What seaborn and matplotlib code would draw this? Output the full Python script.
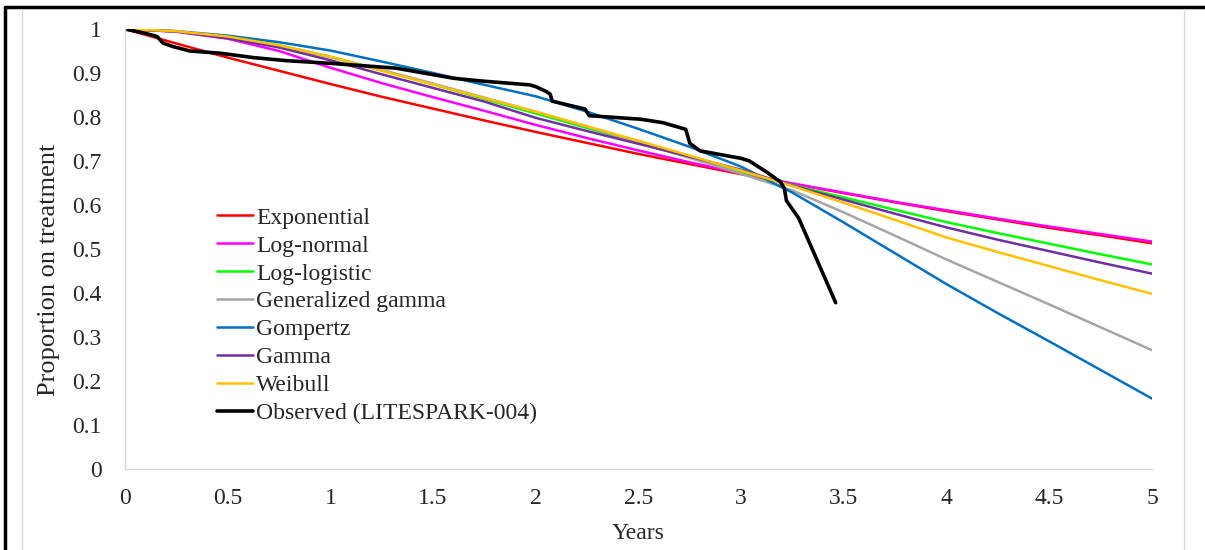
import numpy as np
import pandas as pd
import matplotlib
matplotlib.use('Agg')
import matplotlib.pyplot as plt
from matplotlib.lines import Line2D
from matplotlib.ticker import FuncFormatter
import seaborn as sns

# time grid (years) for the fitted curves
years = [0, 0.25, 0.5, 0.75, 1, 1.25, 1.5, 1.75, 2, 2.25, 2.5,
         2.75, 3, 3.25, 3.5, 3.75, 4, 4.25, 4.5, 4.75, 5]

exponential = [1, .967, .935, .905, .875, .846, .819, .792, .766, .741, .716,
               .693, .670, .648, .627, .606, .586, .567, .548, .531, .513]
lognormal = [1, .994, .978, .950, .912, .877, .845, .814, .782, .752, .724,
             .697, .672, .649, .628, .607, .588, .569, .551, .534, .517]
loglogistic = [1, .995, .982, .963, .937, .906, .874, .841, .808, .775, .741,
               .708, .676, .645, .617, .589, .561, .536, .512, .488, .465]
gengamma = [1, .995, .982, .962, .936, .907, .876, .844, .812, .778, .742,
            .707, .671, .633, .583, .530, .476, .425, .374, .322, .270]
gompertz = [1, .995, .985, .970, .951, .926, .900, .873, .847, .812, .773,
            .732, .687, .628, .560, .490, .420, .354, .290, .225, .160]
gamma = [1, .994, .979, .958, .929, .897, .866, .835, .798, .768, .739,
         .710, .680, .644, .612, .580, .549, .521, .495, .469, .444]
weibull = [1, .995, .983, .963, .937, .905, .874, .843, .812, .779, .746,
           .712, .678, .643, .605, .566, .526, .493, .461, .429, .398]

obs_t = [0, 0.05, 0.1, 0.156, 0.185, 0.234, 0.316, 0.463, 0.625, 0.787, 1.0,
         1.32, 1.6, 1.73, 1.97, 2.0, 2.05, 2.07, 2.08, 2.24, 2.26, 2.51, 2.62,
         2.73, 2.75, 2.8, 3.0, 3.04, 3.12, 3.19, 3.21, 3.22, 3.28, 3.46]
obs_s = [1.0, 0.995, 0.99, 0.983, 0.968, 0.96, 0.95, 0.945, 0.935, 0.928, 0.922,
         0.911, 0.888, 0.882, 0.873, 0.869, 0.858, 0.852, 0.836, 0.818, 0.803,
         0.795, 0.787, 0.772, 0.74, 0.723, 0.706, 0.70, 0.676, 0.653, 0.638,
         0.61, 0.57, 0.378]

models = ['Exponential', 'Log-normal', 'Log-logistic', 'Generalized gamma',
          'Gompertz', 'Gamma', 'Weibull']
curves = [exponential, lognormal, loglogistic, gengamma, gompertz, gamma, weibull]
colors = ['#FF0000', '#FF00FF', '#00FF00', '#A5A5A5', '#0070C0', '#7030A0', '#FFC000']

df = pd.DataFrame({
    'Years': np.tile(years, len(models)),
    'S': np.concatenate(curves),
    'Model': np.repeat(models, len(years)),
})
df_obs = pd.DataFrame({'Years': obs_t, 'S': obs_s})

sns.set_style('white')
plt.rcParams['font.family'] = ['Liberation Serif', 'DejaVu Serif']

fig = plt.figure(figsize=(12.05, 5.5), dpi=100)
ax = fig.add_axes([125/1205, 1-469/550, 1027/1205, 440/550])

sns.lineplot(data=df, x='Years', y='S', hue='Model', hue_order=models,
             palette=colors, linewidth=1.8, ax=ax, legend=False)
sns.lineplot(data=df_obs, x='Years', y='S', color='black', linewidth=2.6,
             ax=ax, legend=False, sort=False)

ax.set_xlim(0, 5)
ax.set_ylim(0, 1)
ax.set_xticks(np.arange(0, 5.01, 0.5))
ax.set_yticks(np.arange(0, 1.01, 0.1))
fmt = FuncFormatter(lambda v, p: '%g' % round(v, 2))
ax.xaxis.set_major_formatter(fmt)
ax.yaxis.set_major_formatter(fmt)
ax.tick_params(axis='x', length=0, pad=14, labelsize=17)
ax.tick_params(axis='y', length=0, pad=17, labelsize=17)
for s in ['top', 'right']:
    ax.spines[s].set_visible(False)
for s in ['left', 'bottom']:
    ax.spines[s].set_color('#D9D9D9')
    ax.spines[s].set_linewidth(1)
ax.set_xlabel('Years', fontsize=17, labelpad=10)
ax.set_ylabel('Proportion on treatment', fontsize=19)
ax.yaxis.set_label_coords(-0.063, 0.452)

handles = [Line2D([], [], color=c, lw=1.8) for c in colors]
handles.append(Line2D([], [], color='black', lw=2.6))
labels = models + ['Observed (LITESPARK-004)']
ax.legend(handles, labels, loc='upper left', bbox_to_anchor=(0.09, 0.595),
          frameon=False, fontsize=17, handlelength=1.5, handletextpad=0.15,
          labelspacing=0.27, borderpad=0, borderaxespad=0)

# outer frame of the original screenshot
fig.add_artist(Line2D([5/1205, 5/1205], [0, 1-7/550], color='black', lw=2.5))
fig.add_artist(Line2D([5/1205, 1], [1-7/550, 1-7/550], color='black', lw=2.5))
fig.add_artist(Line2D([22/1205, 22/1205], [0, 1-9/550], color='#D9D9D9', lw=1))
fig.add_artist(Line2D([1184/1205, 1184/1205], [0, 1-9/550], color='#D9D9D9', lw=1))

fig.savefig('out.png', dpi=100)
